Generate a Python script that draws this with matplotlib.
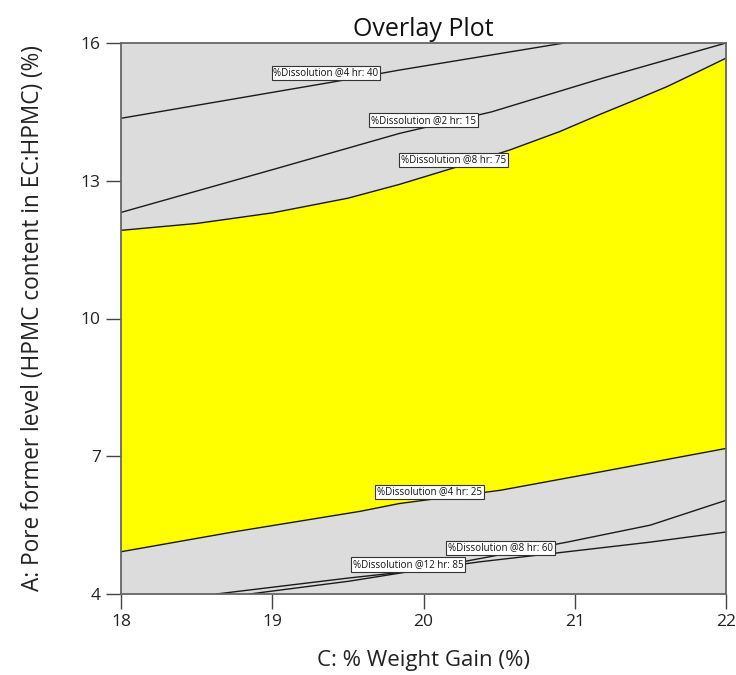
import matplotlib
matplotlib.use("Agg")
import matplotlib.pyplot as plt
import numpy as np

plt.rcParams['font.family'] = ['Open Sans', 'DejaVu Sans']

# Contour curves (x = C: % Weight Gain, y = A: Pore former level)
x_8hr75 = [18.0, 18.5, 19.0, 19.5, 19.84, 20.20, 20.57, 20.9, 21.17, 21.4, 21.61, 21.8, 22.0]
y_8hr75 = [11.92, 12.07, 12.30, 12.62, 12.92, 13.28, 13.67, 14.07, 14.45, 14.76, 15.05, 15.35, 15.67]

x_4hr25 = [18.0, 18.74, 19.58, 19.84, 20.51, 21.17, 22.0]
y_4hr25 = [4.92, 5.35, 5.80, 5.97, 6.26, 6.66, 7.17]

x_4hr40 = [18.0, 19.40, 19.84, 20.93]
y_4hr40 = [14.36, 15.15, 15.41, 16.0]

x_2hr15 = [18.0, 19.0, 19.84, 20.45, 21.2, 22.0]
y_2hr15 = [12.31, 13.24, 14.03, 14.50, 15.25, 16.0]

x_8hr60 = [18.85, 19.51, 19.93, 20.5, 20.95, 21.5, 22.0]
y_8hr60 = [4.0, 4.28, 4.50, 4.85, 5.13, 5.50, 6.04]

x_12hr85 = [18.63, 19.51, 19.93, 20.37, 20.95, 21.5, 22.0]
y_12hr85 = [4.0, 4.35, 4.50, 4.70, 4.92, 5.13, 5.35]

label_texts = ["%Dissolution @4 hr: 40", "%Dissolution @2 hr: 15", "%Dissolution @8 hr: 75",
               "%Dissolution @4 hr: 25", "%Dissolution @8 hr: 60", "%Dissolution @12 hr: 85"]
label_x = [19.355, 20.0, 20.20, 20.04, 20.51, 19.90]
label_y = [15.35, 14.32, 13.45, 6.22, 5.0, 4.64]

xticks = [18, 19, 20, 21, 22]
yticks = [4, 7, 10, 13, 16]

fig = plt.figure(figsize=(7.36, 6.75), dpi=100)
ax = fig.add_axes([121/736, 1-594/675, (726-121)/736, (594-43)/675])
ax.set_xlim(18, 22)
ax.set_ylim(4, 16)
ax.set_facecolor('#DCDCDC')

# yellow feasible region between the two boundary contours
xx = np.linspace(18, 22, 400)
top = np.interp(xx, x_8hr75, y_8hr75)
bot = np.interp(xx, x_4hr25, y_4hr25)
ax.fill_between(xx, bot, top, color='#FFFF00', lw=0, zorder=1)

for xs, ys in [(x_8hr75, y_8hr75), (x_4hr25, y_4hr25), (x_4hr40, y_4hr40),
               (x_2hr15, y_2hr15), (x_8hr60, y_8hr60), (x_12hr85, y_12hr85)]:
    ax.plot(xs, ys, color='#1a1a1a', lw=1.0, zorder=2)

for t, lx, ly in zip(label_texts, label_x, label_y):
    ax.text(lx, ly, t, fontsize=7.0, ha='center', va='center', color='#111111', zorder=5,
            bbox=dict(boxstyle='square,pad=0.18', fc='white', ec='#333333', lw=0.8))

ax.set_xticks(xticks)
ax.set_yticks(yticks)
ax.set_xticklabels([str(v) for v in xticks], fontsize=12.5, color='#222222')
ax.set_yticklabels([str(v) for v in yticks], fontsize=12.5, color='#222222')
ax.tick_params(direction='out', length=10.5, width=1.0, color='#444444', pad=4)
for s in ax.spines.values():
    s.set_color('#666666')
    s.set_linewidth(1.3)

ax.set_title("Overlay Plot", fontsize=18, color='#111111', pad=5)
ax.set_xlabel("C: % Weight Gain (%)", fontsize=16, color='#222222', labelpad=14)
ax.set_ylabel("A: Pore former level (HPMC content in EC:HPMC) (%)", fontsize=16.3,
              color='#222222', labelpad=26)

fig.savefig("out.png", dpi=100)
